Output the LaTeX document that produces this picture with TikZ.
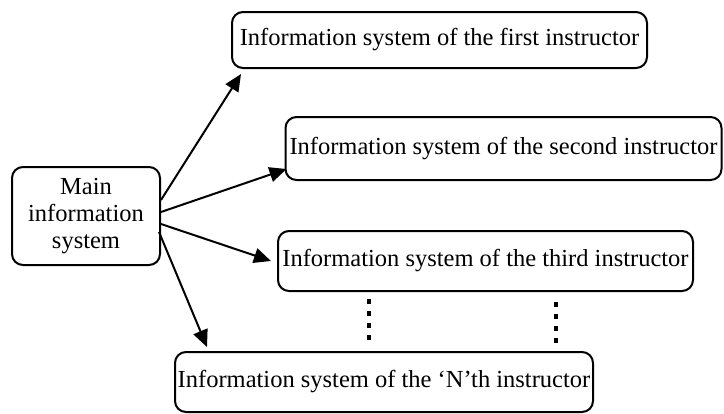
\documentclass[tikz,border=0pt]{standalone}
\usepackage{fontspec}
\setmainfont{Liberation Serif}
\usetikzlibrary{arrows.meta}
\begin{document}
\begin{tikzpicture}[x=1pt,y=-1pt,
  box/.style={draw=black, line width=2pt, rounded corners=11pt, fill=white,
    inner sep=0pt, font=\fontsize{24.5}{27}\selectfont, align=center},
  arr/.style={line width=2pt, -{Triangle[length=17pt,width=15pt]}},
  vdots/.style={line width=4.5pt, dash pattern=on 4.5pt off 7.5pt}]
\useasboundingbox (0,0) rectangle (724,413);
\node[box, minimum width=148pt, minimum height=98pt] (main) at (86,216) {Main\\information\\system};
\node[box, minimum width=415pt, minimum height=56pt] (first) at (439.5,40) {Information system of the first instructor};
\node[box, minimum width=436pt, minimum height=63pt] (second) at (503.5,148.5) {Information system of the second instructor};
\node[box, minimum width=415pt, minimum height=60pt] (third) at (485.5,261) {Information system of the third instructor};
\node[box, minimum width=418pt, minimum height=60pt] (nth) at (384,382) {Information system of the `N'th instructor};
\draw[arr] ([yshift=16pt]main.east) -- ([xshift=10pt,yshift=-5pt]first.south west);
\draw[arr] ([yshift=4pt]main.east) -- ([xshift=2pt,yshift=12pt]second.south west);
\draw[arr] ([yshift=-8pt]main.east) -- ([xshift=-6pt]third.west);
\draw[arr] ([xshift=-2pt,yshift=-16pt]main.east) -- ([xshift=33pt,yshift=4pt]nth.north west);
\draw[vdots] (369,299) -- (369,341);
\draw[vdots] (556,302) -- (556,344);
\end{tikzpicture}
\end{document}
